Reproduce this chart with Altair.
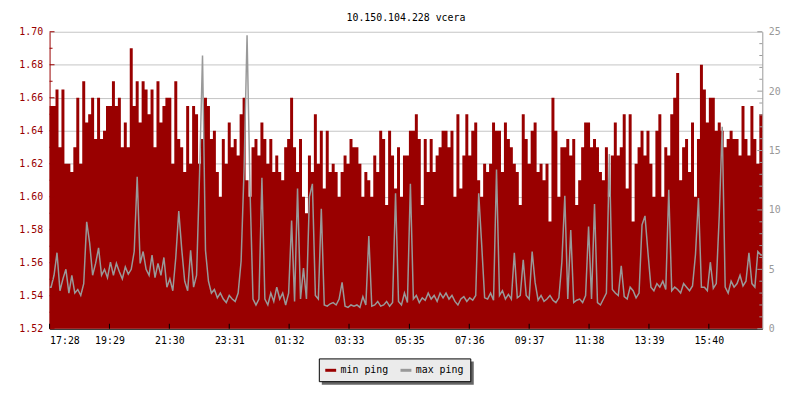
import altair as alt
import pandas as pd

TITLE = "10.150.104.228 vcera"
START = "17:28"
STEP_MIN = 6

min_ping = [
    1.655, 1.655, 1.665, 1.63, 1.665, 1.62, 1.62, 1.615, 1.63, 1.66, 1.62, 1.67, 1.645, 1.65, 1.66, 1.635, 1.66, 1.635, 1.64, 1.655,
    1.655, 1.67, 1.655, 1.66, 1.63, 1.645, 1.63, 1.69, 1.655, 1.67, 1.645, 1.67, 1.665, 1.65, 1.665, 1.63, 1.67, 1.645, 1.655, 1.66,
    1.66, 1.62, 1.67, 1.635, 1.63, 1.615, 1.655, 1.62, 1.655, 1.65, 1.62, 1.635, 1.66, 1.655, 1.635, 1.64, 1.615, 1.60, 1.635, 1.62,
    1.645, 1.63, 1.635, 1.625, 1.65, 1.66, 1.61, 1.60, 1.63, 1.635, 1.625, 1.645, 1.635, 1.62, 1.635, 1.615, 1.625, 1.615, 1.61, 1.63,
    1.635, 1.66, 1.63, 1.615, 1.635, 1.60, 1.59, 1.625, 1.615, 1.65, 1.62, 1.64, 1.605, 1.64, 1.615, 1.62, 1.615, 1.60, 1.615, 1.625,
    1.62, 1.635, 1.63, 1.63, 1.62, 1.60, 1.615, 1.61, 1.60, 1.625, 1.615, 1.64, 1.635, 1.595, 1.64, 1.625, 1.605, 1.63, 1.60, 1.625,
    1.625, 1.64, 1.64, 1.65, 1.635, 1.595, 1.635, 1.615, 1.635, 1.615, 1.625, 1.63, 1.64, 1.64, 1.63, 1.64, 1.60, 1.65, 1.605, 1.625,
    1.65, 1.625, 1.64, 1.645, 1.61, 1.60, 1.62, 1.615, 1.62, 1.645, 1.64, 1.64, 1.615, 1.645, 1.635, 1.63, 1.62, 1.615, 1.595, 1.65,
    1.635, 1.62, 1.64, 1.645, 1.615, 1.62, 1.61, 1.62, 1.585, 1.66, 1.64, 1.60, 1.63, 1.63, 1.635, 1.625, 1.635, 1.595, 1.61, 1.63,
    1.645, 1.645, 1.63, 1.635, 1.63, 1.615, 1.61, 1.63, 1.60, 1.625, 1.645, 1.625, 1.63, 1.65, 1.605, 1.65, 1.585, 1.62, 1.63, 1.64,
    1.625, 1.64, 1.62, 1.60, 1.64, 1.65, 1.60, 1.63, 1.625, 1.65, 1.66, 1.675, 1.61, 1.63, 1.635, 1.615, 1.645, 1.60, 1.635, 1.68,
    1.665, 1.645, 1.66, 1.66, 1.64, 1.645, 1.64, 1.63, 1.635, 1.64, 1.635, 1.635, 1.625, 1.655, 1.635, 1.625, 1.655, 1.635, 1.62, 1.65,
]

max_ping = [
    3.5, 4.5, 6.4, 3.2, 4.2, 5.0, 3.0, 4.5, 3.0, 3.3, 2.8, 3.8, 9.0, 7.2, 4.5, 5.5, 6.8, 4.5, 5.0, 4.3,
    5.6, 4.5, 5.5, 4.8, 4.2, 5.2, 4.6, 5.0, 6.5, 12.8, 5.5, 6.5, 5.0, 4.5, 6.2, 4.3, 5.5, 4.5, 6.0, 3.5,
    4.2, 3.2, 6.0, 9.9, 6.7, 4.0, 3.2, 6.6, 3.5, 4.5, 13.0, 23.0, 6.6, 4.0, 3.0, 3.3, 2.6, 3.0, 2.5, 2.2,
    2.8, 2.5, 2.3, 3.0, 5.7, 13.5, 24.7, 11.7, 2.5, 2.0, 2.5, 12.7, 2.5, 2.0, 3.0, 2.3, 3.5, 2.5, 3.0, 2.0,
    3.0, 9.1, 2.3, 11.8, 2.5, 5.1, 2.5, 11.1, 12.2, 2.8, 2.5, 10.1, 2.0, 1.9, 2.1, 2.2, 2.0, 2.5, 3.9, 1.9,
    1.8, 2.0, 1.9, 2.0, 1.8, 2.7, 2.0, 7.8, 1.9, 2.0, 2.3, 1.9, 2.0, 2.3, 1.9, 2.2, 11.4, 2.3, 2.0, 3.0,
    2.2, 12.2, 2.5, 2.8, 2.2, 2.6, 2.4, 3.0, 2.5, 2.8, 2.3, 3.0, 2.6, 3.0, 2.5, 2.8, 2.3, 2.0, 2.5, 2.7,
    2.3, 2.6, 2.4, 2.8, 11.4, 7.1, 2.6, 2.5, 3.0, 2.4, 13.4, 2.8, 3.2, 2.5, 2.9, 2.5, 6.4, 2.6, 2.8, 5.8,
    2.8, 2.5, 6.5, 3.9, 2.4, 2.8, 2.3, 2.5, 2.8, 2.4, 2.2, 2.6, 5.6, 11.2, 2.5, 8.3, 2.2, 2.4, 2.5, 2.2,
    2.8, 8.6, 2.5, 10.5, 2.2, 2.0, 2.5, 3.0, 14.7, 3.3, 3.0, 2.8, 5.3, 2.7, 2.5, 3.5, 3.2, 2.6, 3.0, 8.75,
    9.5, 6.4, 3.5, 3.2, 3.8, 3.5, 4.0, 3.3, 11.7, 3.2, 3.5, 3.3, 3.0, 3.8, 3.5, 3.2, 3.6, 6.25, 11.0, 3.5,
    3.5, 3.2, 5.6, 3.4, 3.8, 9.5, 17.0, 3.5, 3.0, 4.0, 3.5, 3.8, 4.5, 3.6, 4.0, 6.4, 3.8, 3.5, 6.5, 6.2,
]

x_tick_labels = ["17:28", "19:29", "21:30", "23:31", "01:32", "03:33",
                 "05:35", "07:36", "09:37", "11:38", "13:39", "15:40"]
left_label_values = [1.52, 1.54, 1.56, 1.58, 1.60, 1.62, 1.64, 1.66, 1.68, 1.70]
left_minor_values = [1.53, 1.55, 1.57, 1.59, 1.61, 1.63, 1.65, 1.67, 1.69]
right_label_values = [0, 5, 10, 15, 20, 25]
right_minor_values = [1, 2, 3, 4, 6, 7, 8, 9, 11, 12, 13, 14, 16, 17, 18, 19, 21, 22, 23, 24]
series_names = ["min ping", "max ping"]
series_colors = ["#990000", "#999999"]

FONT = "DejaVu Sans Mono"
W, H = 720, 300
XDOM = [0, 1440]
LDOM = [1.52, 1.70]
RDOM = [0, 25]
RED = "#990000"
GRAY = "#999999"

n = len(min_ping)
t = [STEP_MIN * i for i in range(n)] + [STEP_MIN * n]
df_min = pd.DataFrame({"t": t, "v": min_ping + [min_ping[-1]]})
t_mid = [STEP_MIN * i + STEP_MIN / 2 for i in range(n)]
df_max = pd.DataFrame({"t": [0] + t_mid + [STEP_MIN * n],
                       "v": [max_ping[0]] + max_ping + [max_ping[-1]],
                       "series": series_names[1]})


def to_minutes(lbl):
    h, m = map(int, lbl.split(":"))
    sh, sm = map(int, START.split(":"))
    return (h * 60 + m - sh * 60 - sm) % 1440


x_tick_values = [to_minutes(l) for l in x_tick_labels]
label_expr = ("[" + ",".join(f"'{l}'" for l in x_tick_labels) + "][indexof(["
              + ",".join(str(v) for v in x_tick_values) + "], datum.value)]")

xscale = alt.Scale(domain=XDOM, nice=False, zero=False)
xenc = alt.X("t:Q", scale=xscale, title=None,
             axis=alt.Axis(values=x_tick_values, labelExpr=label_expr, ticks=False,
                           grid=False, domainColor="black", labelColor="black",
                           labelFont=FONT, labelFontSize=10, labelPadding=7,
                           labelAngle=0))

lscale = alt.Scale(domain=LDOM, nice=False, zero=False)
rscale = alt.Scale(domain=RDOM, nice=False, zero=False)

area = alt.Chart(df_min).mark_area(interpolate="step-after", color=RED).encode(
    x=xenc,
    y=alt.Y("v:Q", scale=lscale, title=None,
            axis=alt.Axis(orient="left", values=left_label_values, format=".2f",
                          ticks=False, grid=True, gridColor="#c4c4c4",
                          domainColor=RED, labelColor=RED, labelFont=FONT,
                          labelFontSize=10, labelPadding=7)),
    y2=alt.datum(LDOM[0]),
)

line = alt.Chart(df_max).mark_line(interpolate="linear", strokeWidth=1.5).encode(
    x=xenc,
    y=alt.Y("v:Q", scale=rscale, title=None,
            axis=alt.Axis(orient="right", values=right_label_values, ticks=False,
                          grid=False, domainColor=GRAY, labelColor=GRAY,
                          labelFont=FONT, labelFontSize=10, labelPadding=6)),
    color=alt.Color("series:N",
                    scale=alt.Scale(domain=series_names, range=series_colors),
                    legend=alt.Legend(title=None, orient="none", legendX=277,
                                      legendY=335, direction="horizontal",
                                      symbolType="stroke", symbolSize=121,
                                      symbolStrokeWidth=3, labelFont=FONT,
                                      labelFontSize=10, labelColor="black",
                                      labelOffset=3, columnPadding=5, padding=0)),
)

lt_major = alt.Chart(pd.DataFrame({"v": left_label_values})).mark_rule(color=RED).encode(
    y=alt.Y("v:Q", scale=lscale, axis=None), x=alt.value(0), x2=alt.value(5))
lt_minor = alt.Chart(pd.DataFrame({"v": left_minor_values})).mark_rule(color=RED).encode(
    y=alt.Y("v:Q", scale=lscale, axis=None), x=alt.value(0), x2=alt.value(3))
rt_major = alt.Chart(pd.DataFrame({"v": right_label_values})).mark_rule(color=GRAY).encode(
    y=alt.Y("v:Q", scale=rscale, axis=None), x=alt.value(W - 5), x2=alt.value(W))
rt_minor = alt.Chart(pd.DataFrame({"v": right_minor_values})).mark_rule(color=GRAY).encode(
    y=alt.Y("v:Q", scale=rscale, axis=None), x=alt.value(W - 3), x2=alt.value(W))
xt = alt.Chart(pd.DataFrame({"t": x_tick_values})).mark_rule(color="black").encode(
    x=xenc, y=alt.value(H - 5), y2=alt.value(H))

box_data = alt.Data(values=[{"k": 1}])
shadow = alt.Chart(box_data).mark_rect(color="#666666").encode(
    x=alt.value(275), x2=alt.value(428.5), y=alt.value(333), y2=alt.value(356.5))
box = alt.Chart(box_data).mark_rect(fill="#ebebeb", stroke="black", strokeWidth=1).encode(
    x=alt.value(272.5), x2=alt.value(425.5), y=alt.value(330.5), y2=alt.value(353.5))

chart = alt.layer(area, line, lt_major, lt_minor, rt_major, rt_minor, xt, shadow, box).resolve_scale(
    y="independent"
).properties(
    width=W, height=H,
    title=alt.TitleParams(text=TITLE, font=FONT, fontSize=10, fontWeight="normal",
                          color="black", anchor="middle", frame="group",
                          baseline="alphabetic", offset=8, dy=12),
    autosize=alt.AutoSizeParams(type="none"),
    padding={"left": 42, "top": 22, "right": 30, "bottom": 70},
    background="white",
).configure_view(stroke=None)

chart.save("out.html", embed_options={"renderer": "svg", "actions": False})
